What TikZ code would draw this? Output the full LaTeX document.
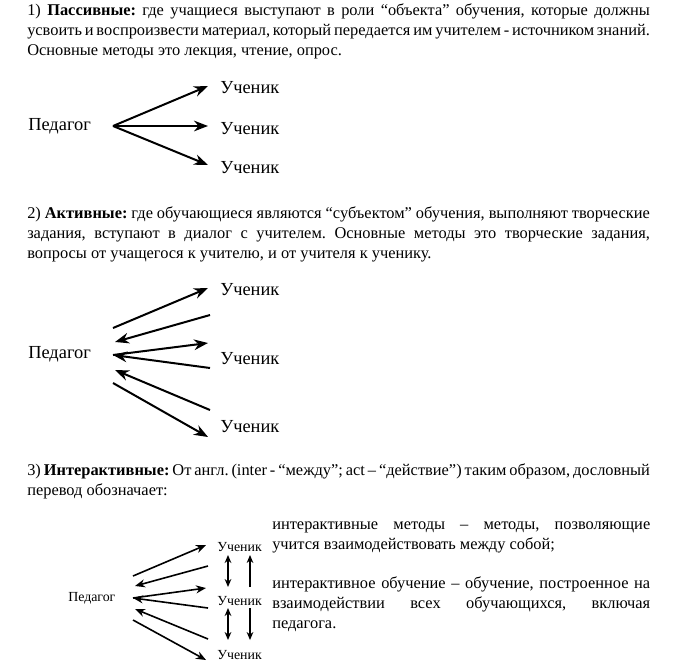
\documentclass[tikz,border=0pt]{standalone}
\usepackage{fontspec}
\setmainfont{Liberation Serif}
\usetikzlibrary{arrows.meta}
\tikzset{>={Stealth[length=10.5pt,width=8pt]}}
\newcommand\paraset{\frenchspacing\hyphenpenalty=10000\relax
  \spaceskip=.25em plus .5em minus .12em\relax}
\tikzset{
  para/.style={anchor=north west,inner sep=0pt,text width=467pt,align=justify,
    font=\fontsize{12.3}{15}\selectfont\paraset},
  side/.style={para,text width=283.5pt},
  lbl/.style={anchor=west,inner sep=0pt,font=\fontsize{13.8}{15}\selectfont},
  lblsmall/.style={anchor=west,inner sep=0pt,font=\fontsize{10.4}{12}\selectfont},
  fan/.style={->,line width=1.5pt},
  fansmall/.style={-{Stealth[length=7.5pt,width=6pt]},line width=1.2pt},
  vdouble/.style={{Stealth[length=6pt,width=5pt]}-{Stealth[length=6pt,width=5pt]},line width=1.2pt},
  vsingle/.style={-{Stealth[length=6pt,width=5pt]},line width=0.8pt},
}

\begin{document}
\begin{tikzpicture}[x=0.75pt,y=-0.75pt]
  \useasboundingbox (0,0) rectangle (685,665);

  % texts
  \node[para] (txt1) at (27,3) {1) \textbf{Пассивные:} где учащиеся выступают в роли “объекта” обучения, которые должны\linebreak
    усвоить и воспроизвести материал, который передается им учителем - источником знаний.\linebreak
    Основные методы это лекция, чтение, опрос.};
  \node[para] (txt2) at (27,206) {2) \textbf{Активные:} где обучающиеся являются “субъектом” обучения, выполняют творческие\linebreak
    задания, вступают в диалог с учителем. Основные методы это творческие задания,\linebreak
    вопросы от учащегося к учителю, и от учителя к ученику.};
  \node[para] (txt3) at (27,463) {3) \textbf{Интерактивные:} От англ. (inter - “между”; act – “действие”) таким образом, дословный\linebreak
    перевод обозначает:};
  \node[side] (def1) at (272,521) {интерактивные методы – методы, позволяющие\linebreak
    учится взаимодействовать между собой;};
  \node[side] (def2) at (272,576) {интерактивное обучение – обучение, построенное на\linebreak
    взаимодействии всех обучающихся, включая\linebreak педагога.};

  % passive
  \node[lbl] (ped1) at (28,126) {Педагог};
  \node[lbl] (uch1a) at (220,88) {Ученик};
  \node[lbl] (uch1b) at (220,129) {Ученик};
  \node[lbl] (uch1c) at (220,168) {Ученик};
  \coordinate (p1) at (113,126);
  \draw[fan] (p1) -- (208,86);
  \draw[fan] (p1) -- (208,126);
  \draw[fan] (p1) -- (208,165);

  % active
  \node[lbl] (ped2) at (28,354) {Педагог};
  \node[lbl] (uch2a) at (220,290) {Ученик};
  \node[lbl] (uch2b) at (220,359) {Ученик};
  \node[lbl] (uch2c) at (220,427) {Ученик};
  \draw[fan] (113,328) -- (208,288);
  \draw[fan] (210,315) -- (115,342);
  \draw[fan] (113,355) -- (208,343);
  \draw[fan] (210,368) -- (113,355);
  \draw[fan] (210,410) -- (115,370);
  \draw[fan] (113,383) -- (208,437);

  % interactive
  \node[lblsmall] (ped3) at (68,598) {Педагог};
  \node[lblsmall] (uch3a) at (217,547) {Ученик};
  \node[lblsmall] (uch3b) at (217,601) {Ученик};
  \node[lblsmall] (uch3c) at (217,655) {Ученик};
  \draw[fansmall] (133,576) -- (206,545);
  \draw[fansmall] (208,566) -- (135,586);
  \draw[fansmall] (133,598) -- (206,588);
  \draw[fansmall] (208,608) -- (133,598);
  \draw[fansmall] (208,639) -- (135,609);
  \draw[fansmall] (133,620) -- (206,660);
  \draw[vdouble] (228,555) -- (228,587);
  \draw[vdouble] (228,608) -- (228,640);
  \draw[vsingle] (250,587) -- (250,555);
  \draw[vsingle] (250,608) -- (250,640);

\end{tikzpicture}
\end{document}
